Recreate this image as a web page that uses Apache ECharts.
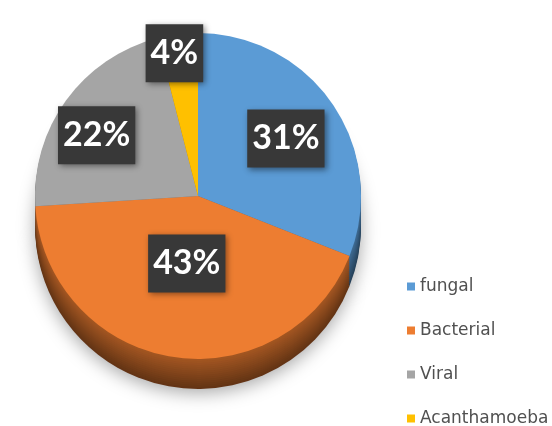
<!DOCTYPE html>
<html><head><meta charset="utf-8">
<script src="https://cdn.jsdelivr.net/npm/echarts@6/dist/echarts.min.js"></script>
<style>html,body{margin:0;padding:0;background:#fff}#c{width:552px;height:426px}</style>
</head><body><div id="c"></div>
<script>
const categories = ['fungal', 'Bacterial', 'Viral', 'Acanthamoeba'];
const values = [31, 43, 22, 4];
const colors = ['#5b9bd5', '#ed7d31', '#a5a5a5', '#ffc000'];

// label nudges (style only)
const labelOffsets = [[18, -10], [2, -16], [-33, -11], [-13, -59]];

function shade(hex, f) {
  const n = parseInt(hex.slice(1), 16);
  const r = Math.round(((n >> 16) & 255) * f), g = Math.round(((n >> 8) & 255) * f), b = Math.round((n & 255) * f);
  return 'rgb(' + r + ',' + g + ',' + b + ')';
}

const CX = 198, CY = 196, R = 163, DEPTH = 30, LAYERS = 15;

const topData = categories.map((name, i) => ({
  name, value: values[i],
  itemStyle: { color: colors[i] },
  label: { offset: labelOffsets[i] }
}));

const series = [{
  type: 'pie', name: 'top', z: 3,
  center: [CX, CY], radius: [0, R],
  startAngle: 90, clockwise: true,
  data: topData,
  emphasis: { disabled: true },
  label: {
    show: true, position: 'inside', formatter: '{c}%',
    color: '#fff', fontSize: 34, fontWeight: 'bold', fontFamily: 'Lato',
    lineHeight: 40,
    backgroundColor: '#383838', padding: [9, 5],
    shadowColor: 'rgba(0,0,0,0.45)', shadowBlur: 6, shadowOffsetX: 2, shadowOffsetY: 2
  },
  labelLine: { show: false },
  itemStyle: { borderWidth: 0 }
}];

for (let k = LAYERS; k >= 1; k--) {
  const off = DEPTH * k / LAYERS;
  const f = 0.7 - 0.28 * (k / LAYERS);
  series.push({
    type: 'pie', name: 'depth' + k, z: 2, silent: true,
    center: [CX, CY + off], radius: [0, R],
    startAngle: 90, clockwise: true,
    emphasis: { disabled: true },
    label: { show: false }, labelLine: { show: false },
    data: categories.map((name, i) => ({
      name, value: values[i],
      itemStyle: Object.assign({ color: shade(colors[i], f), borderWidth: 0 },
        k === LAYERS ? { shadowColor: 'rgba(0,0,0,0.35)', shadowBlur: 18, shadowOffsetY: 4 } : {})
    }))
  });
}

const chart = echarts.init(document.getElementById('c'), null, { renderer: 'canvas' });
chart.setOption({
  backgroundColor: '#ffffff',
  animation: false,
  legend: {
    orient: 'vertical', left: 402, top: 273, height: 250,
    data: categories,
    icon: 'rect', itemWidth: 8, itemHeight: 8, itemGap: 27,
    textStyle: { fontSize: 17, lineHeight: 15, fontFamily: 'DejaVu Sans', color: '#505050' }
  },
  series
});
</script></body></html>
